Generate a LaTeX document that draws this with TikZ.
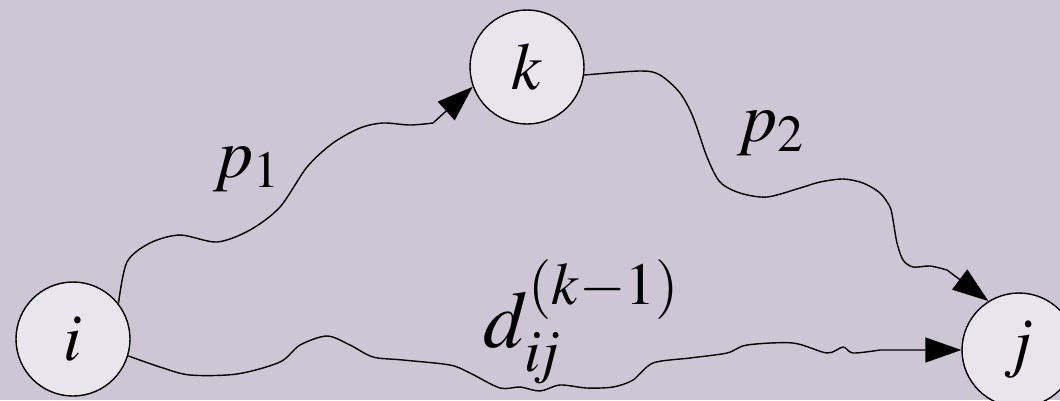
\documentclass[tikz,border=0pt]{standalone}
\usepackage{mathptmx}
\usetikzlibrary{positioning,arrows.meta}
\definecolor{rockbg}{RGB}{205,198,212}
\definecolor{vertexfill}{RGB}{233,229,236}

\begin{document}
\begin{tikzpicture}[>={Triangle[length=3.6mm,width=2.5mm]},thin,
  vertex/.style={circle,draw,fill=vertexfill,minimum size=11.4mm,inner sep=0pt,
    font=\fontsize{19}{21}\selectfont},
  lbl/.style={font=\fontsize{20}{22}\selectfont}]
  \useasboundingbox (0,0) rectangle (10.6,4);
  \fill[rockbg] (0,0) rectangle (10.6,4);
  \node[vertex] (i) at (0.73,0.61) {$i$};
  \node[vertex,on grid,above right=2.72cm and 4.54cm of i] (k) {$k$};
  \node[vertex,on grid,below right=0.11cm and 9.46cm of i] (j) {$j$};
  \node[lbl] (p1) at (2.47,2.31) {$p_1$};
  \node[lbl] (p2) at (7.71,2.67) {$p_2$};
  \node[lbl,font=\fontsize{23}{26}\selectfont] (dij) at (5.82,0.78) {$d_{i\!j}^{(k-1)}$};
  % path through k
  \draw[->] plot[smooth,tension=0.5] coordinates {(i.38) (1.27,1.38) (1.50,1.57) (1.80,1.65)
      (2.17,1.58) (2.50,1.70) (2.80,1.93) (3.07,2.33) (3.33,2.57) (3.60,2.72)
      (3.83,2.77) (4.10,2.75) (4.33,2.77)} -- (k.200);
  \draw[->] plot[smooth,tension=0.5] coordinates {(k.-8) (6.40,3.29) (6.60,3.25) (6.80,3.07)
      (6.93,2.83) (7.07,2.43) (7.20,2.18) (7.40,2.07) (7.67,2.03) (8.00,2.12)
      (8.20,2.18) (8.43,2.21) (8.63,2.17) (8.80,2.07) (8.90,1.93) (8.93,1.80)
      (8.97,1.57) (9.03,1.40) (9.13,1.33) (9.30,1.34) (9.47,1.30)} -- (j.122);
  % direct path
  \draw[->] plot[smooth,tension=0.5] coordinates {(i.-17) (1.60,0.33) (1.90,0.25) (2.37,0.26)
      (2.80,0.38) (3.00,0.55) (3.27,0.64) (3.50,0.55) (3.73,0.43) (4.03,0.40)
      (4.50,0.35) (4.70,0.27) (5.00,0.12) (5.20,0.13) (5.40,0.09) (5.60,0.15)
      (5.87,0.12) (6.13,0.13) (6.33,0.20) (6.53,0.37) (6.90,0.42) (7.27,0.47)
      (7.47,0.55) (7.93,0.57) (8.27,0.47) (8.43,0.53) (8.53,0.47) (8.80,0.50)} -- (j);
\end{tikzpicture}
\end{document}
